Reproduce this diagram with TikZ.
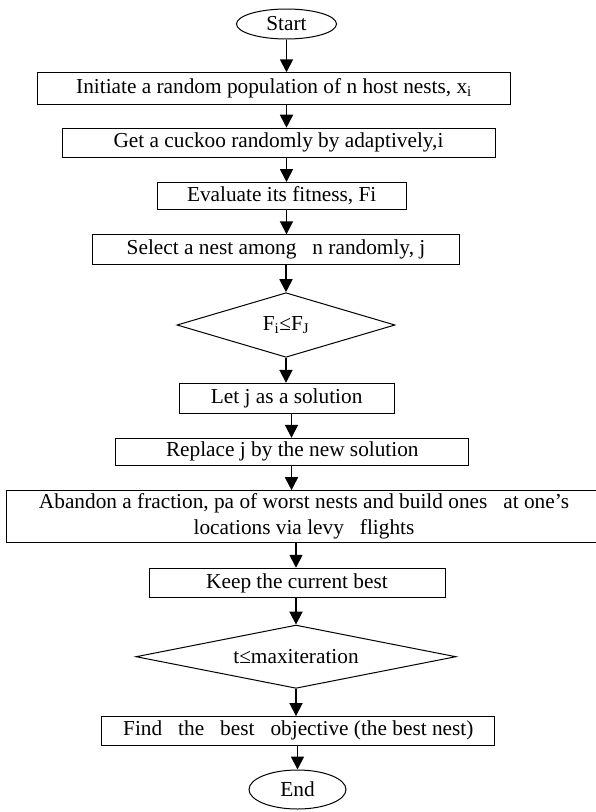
\documentclass[tikz,border=0pt]{standalone}
\usepackage{fontspec}
\setmainfont{Liberation Serif}
\usetikzlibrary{shapes.geometric,arrows.meta}
\begin{document}
\begin{tikzpicture}[x=1pt,y=-1pt,
  font=\fontsize{21.3}{26}\selectfont,
  box/.style={draw,line width=1pt,inner sep=0pt},
  term/.style={draw,ellipse,line width=1pt,inner sep=0pt},
  cond/.style={draw,diamond,line width=1pt,inner sep=0pt},
  arr/.style={line width=1.8pt,-{Triangle[length=13pt,width=13pt]}}]
\useasboundingbox (0,0) rectangle (595,812);
\node[term,minimum width=100pt,minimum height=30pt] (start) at (286.5,24) {Start};
\node[box,minimum width=473pt,minimum height=31.5pt] (init) at (274,88.5) {Initiate a random population of n host nests, x\textsubscript{i}};
\node[box,minimum width=433pt,minimum height=29pt] (cuckoo) at (278.5,142.7) {Get a cuckoo randomly by adaptively,i};
\node[box,minimum width=249pt,minimum height=27pt] (eval) at (281.7,196) {Evaluate its fitness, Fi};
\node[box,minimum width=367pt,minimum height=30pt] (select) at (276,249.8) {Select a nest among\hspace{0.75em}n randomly, j};
\node[cond,aspect=3.4,minimum width=218pt,minimum height=64.6pt] (fifj) at (286,325) {F\textsubscript{i}≤F\textsubscript{J}};
\node[box,minimum width=215pt,minimum height=30pt] (letj) at (286.7,398.3) {Let j as a solution};
\node[box,minimum width=353pt,minimum height=27pt] (replace) at (292.3,451.8) {Replace j by the new solution};
\node[box,minimum width=596pt,minimum height=52pt,align=center] (abandon) at (304,516.7) {Abandon a fraction, pa of worst nests and build ones\hspace{0.75em}at one’s\\locations via levy\hspace{0.75em}flights};
\node[box,minimum width=296pt,minimum height=29.5pt] (keep) at (297,583) {Keep the current best};
\node[cond,aspect=5,minimum width=320pt,minimum height=63.3pt] (tmax) at (296,656.7) {t≤maxiteration};
\node[box,minimum width=393pt,minimum height=28.5pt] (find) at (298.3,730.8) {Find\hspace{0.75em}the\hspace{0.75em}best\hspace{0.75em}objective (the best nest)};
\node[term,minimum width=97pt,minimum height=39pt] (end) at (297.5,789.5) {End};
\coordinate (axa) at (286.5,0);
\coordinate (axb) at (291.5,0);
\coordinate (axc) at (296,0);
\draw[arr] (start.south) -- (start.south |- init.north);
\draw[arr] (axa |- init.south) -- (axa |- cuckoo.north);
\draw[arr] (axa |- cuckoo.south) -- (axa |- eval.north);
\draw[arr] (axa |- eval.south) -- (axa |- select.north);
\draw[arr] (fifj |- select.south) -- (fifj.north);
\draw[arr] (fifj.south) -- (fifj.south |- letj.north);
\draw[arr] (axb |- letj.south) -- (axb |- replace.north);
\draw[arr] (axb |- replace.south) -- (axb |- abandon.north);
\draw[arr] (axc |- abandon.south) -- (axc |- keep.north);
\draw[arr] (tmax |- keep.south) -- (tmax.north);
\draw[arr] (tmax.south) -- (tmax.south |- find.north);
\draw[arr] (end |- find.south) -- (end.north);
\end{tikzpicture}
\end{document}
